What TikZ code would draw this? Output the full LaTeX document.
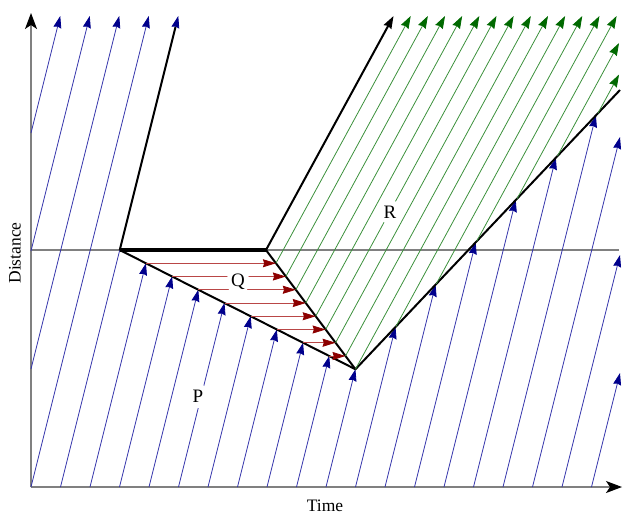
\documentclass[tikz,border=0pt]{standalone}
\usepackage{fontspec}
\setmainfont{Liberation Serif}
\usetikzlibrary{arrows.meta}
\definecolor{bl}{RGB}{50,50,170}
\definecolor{blh}{RGB}{0,0,140}
\definecolor{gr}{RGB}{60,145,60}
\definecolor{grh}{RGB}{0,105,0}
\definecolor{rd}{RGB}{185,70,70}
\definecolor{rdh}{RGB}{140,0,0}
\definecolor{ax}{RGB}{128,128,128}
\begin{document}
\begin{tikzpicture}[x=1pt,y=-1pt,
  blueline/.style={draw=bl, line width=0.8pt},
  bluearrow/.style={blueline, -{Stealth[inset=1.2pt,length=12pt,width=8pt,color=blh]}},
  greenarrow/.style={draw=gr, line width=0.8pt, -{Stealth[inset=1.2pt,length=12.5pt,width=8.5pt,color=grh]}},
  redarrow/.style={draw=rd, line width=0.8pt, -{Stealth[inset=1.2pt,length=13pt,width=8pt,color=rdh]}},
  axisline/.style={draw=ax, line width=1.2pt, -{Stealth[inset=4pt,length=16pt,width=12pt,color=black]}},
  shockline/.style={draw=black, line width=2pt},
  lbl/.style={font=\fontsize{17.5}{20}\selectfont, inner sep=0pt},
  region/.style={font=\fontsize{19}{22}\selectfont, inner sep=0pt, circle, fill=white, minimum size=24pt}]
\useasboundingbox (0,0) rectangle (623,517);
% coordinates
\coordinate (O) at (31,487);
\coordinate (A) at (119.75,250);
\coordinate (B) at (266,250);
\coordinate (C) at (355.44,369.25);
\coordinate (D) at (620,90);
\coordinate (Atop) at (175.5,27);
\coordinate (Btop) at (393.53,16);
\coordinate (Ytop) at (31,13);
\coordinate (Xend) at (622,487);
\coordinate (Hl) at (31,250);
\coordinate (Hr) at (619,250);
% axes and reference line
\draw[draw=ax, line width=1.2pt] (Hl) -- (Hr);
\draw[axisline] (O) -- (Ytop);
\draw[axisline] (O) -- (Xend);
% blue characteristics
\foreach \k in {-3,-2,-1}{
  \draw[bluearrow] (31,487+118*\k) -- (148.75+29.5*\k,16);
}
\foreach \k in {0,1}{
  \draw[bluearrow] (31+29.5*\k,487) -- (148.75+29.5*\k,16);
}
\foreach \k in {2,...,10}{
  \draw[bluearrow] (31+29.5*\k,487) -- (119.75+26.1875*\k-26.1875,250+13.25*\k-13.25);
}
\foreach \k in {11,...,16}{
  \pgfmathsetmacro\yy{(552.51-29.5*\k)/0.6974}
  \pgfmathsetmacro\xx{152.75+29.5*\k-0.25*\yy}
  \draw[bluearrow] (31+29.5*\k,487) -- (\xx,\yy);
}
\foreach \k in {17,18,19}{
  \draw[bluearrow] (31+29.5*\k,487) -- (620,118*\k-1869);
}
% black lines
\draw[shockline] (A) -- (Atop);
\draw[shockline, line width=3.5pt] (A) -- (B);
\draw[shockline, line join=round] (A) -- (C) -- (D);
\draw[shockline] (B) -- (C);
\draw[shockline, -{Stealth[inset=1.2pt,length=12.5pt,width=8.5pt,color=black]}] (B) -- (Btop);
% red
\foreach \j in {1,...,8}{
  \draw[redarrow] (119.75+26.1875*\j,250+13.25*\j) -- (266+9.938*\j,250+13.25*\j);
}
% green
\foreach \m in {1,...,9}{
  \draw[greenarrow] (266+9.938*\m,250+13.25*\m) -- (393.53+17.159*\m,16);
}
\foreach \m in {10,...,13}{
  \pgfmathsetmacro\yy{(303.01-17.159*\m)/0.4024}
  \pgfmathsetmacro\xx{402.25+17.159*\m-0.545*\yy}
  \draw[greenarrow] (\xx,\yy) -- (393.53+17.159*\m,16);
}
\foreach \m in {14,15}{
  \pgfmathsetmacro\yy{(303.01-17.159*\m)/0.4024}
  \pgfmathsetmacro\xx{402.25+17.159*\m-0.545*\yy}
  \pgfmathsetmacro\ye{(402.25+17.159*\m-619)/0.545}
  \draw[greenarrow] (\xx,\yy) -- (619,\ye);
}
% labels
\node[region] (Q) at (238,282) {Q};
\node[region] (R) at (390,212) {R};
\node[region] (P) at (198,396) {P};
\node[lbl, rotate=90] (dist) at (15,253) {Distance};
\node[lbl] (time) at (325,506) {Time};
\end{tikzpicture}
\end{document}
